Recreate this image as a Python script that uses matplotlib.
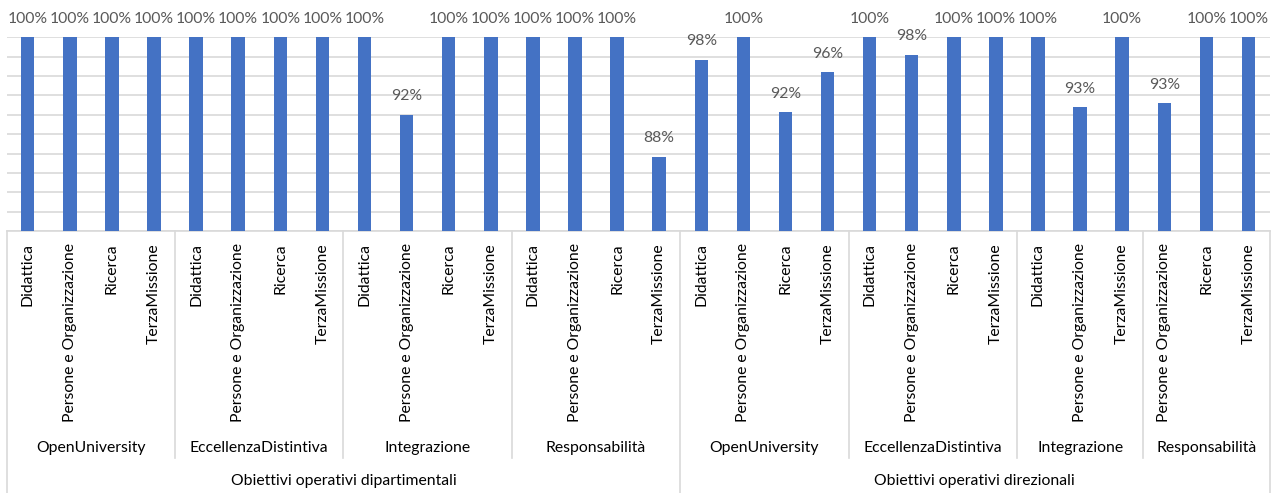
import matplotlib
matplotlib.use("Agg")
import matplotlib.pyplot as plt
from matplotlib.lines import Line2D

plt.rcParams["font.family"] = ["Lato", "DejaVu Sans"]

# Hierarchical categories: level 1 -> level 2 -> items
top_groups = ["Obiettivi operativi dipartimentali", "Obiettivi operativi direzionali"]
sub_groups = [
    ["OpenUniversity", "EccellenzaDistintiva", "Integrazione", "Responsabilità"],
    ["OpenUniversity", "EccellenzaDistintiva", "Integrazione", "Responsabilità"],
]
items = [
    [
        ["Didattica", "Persone e Organizzazione", "Ricerca", "TerzaMissione"],
        ["Didattica", "Persone e Organizzazione", "Ricerca", "TerzaMissione"],
        ["Didattica", "Persone e Organizzazione", "Ricerca", "TerzaMissione"],
        ["Didattica", "Persone e Organizzazione", "Ricerca", "TerzaMissione"],
    ],
    [
        ["Didattica", "Persone e Organizzazione", "Ricerca", "TerzaMissione"],
        ["Didattica", "Persone e Organizzazione", "Ricerca", "TerzaMissione"],
        ["Didattica", "Persone e Organizzazione", "TerzaMissione"],
        ["Persone e Organizzazione", "Ricerca", "TerzaMissione"],
    ],
]
values = [
    [
        [1.00, 1.00, 1.00, 1.00],
        [1.00, 1.00, 1.00, 1.00],
        [1.00, 0.920, 1.00, 1.00],
        [1.00, 1.00, 1.00, 0.877],
    ],
    [
        [0.977, 1.00, 0.923, 0.964],
        [1.00, 0.982, 1.00, 1.00],
        [1.00, 0.928, 1.00],
        [0.932, 1.00, 1.00],
    ],
]

BAR = "#4472C4"
TXT = "#595959"
GRID = "#D9D9D9"
FS = 11.3
W, H = 1274, 493

fig = plt.figure(figsize=(W / 100, H / 100), dpi=100)
ax_l, ax_r, ax_t, ax_b = 6.7, 1269.5, 37.3, 231.3
ax = fig.add_axes([ax_l / W, 1 - ax_b / H, (ax_r - ax_l) / W, (ax_b - ax_t) / H])

# flatten into bar positions
labels, vals = [], []
sub_spans, top_spans = [], []
pos = 0
for ti, tg in enumerate(top_groups):
    t_start = pos
    for si, sg in enumerate(sub_groups[ti]):
        s_start = pos
        for it, v in zip(items[ti][si], values[ti][si]):
            labels.append(it)
            vals.append(v)
            pos += 1
        sub_spans.append((sg, s_start, pos))
    top_spans.append((tg, t_start, pos))
n = len(vals)
x = list(range(n))

ax.bar(x, vals, width=0.32, color=BAR, zorder=3)
ax.set_xlim(-0.5, n - 0.5)
ax.set_ylim(0.80, 1.00)
ax.set_yticks([0.80 + 0.02 * i for i in range(11)])
ax.yaxis.grid(True, color=GRID, lw=1.2, zorder=0)
ax.tick_params(left=False, bottom=False, labelleft=False, labelbottom=False)
for s in ["left", "right", "top"]:
    ax.spines[s].set_visible(False)
ax.spines["bottom"].set_color(GRID)
ax.spines["bottom"].set_linewidth(1.2)

# data labels
for xi, v in zip(x, vals):
    ax.annotate(f"{v:.0%}", (xi, v), xytext=(0, 13.3), textcoords="offset points",
                ha="center", va="center", fontsize=FS, color=TXT, zorder=4)

trans = ax.get_xaxis_transform()
hpx = ax_b - ax_t


def yax(py):
    return (ax_b - py) / hpx


# category labels (rotated)
for xi, lab in zip(x, labels):
    ax.text(xi, yax(243), lab, rotation=90, ha="center", va="top",
            fontsize=FS, color="black", transform=trans, clip_on=False)

# second-level labels and separators
top_starts = [ts[1] for ts in top_spans]
for sg, a, b in sub_spans:
    ax.text((a + b - 1) / 2, yax(448), sg, ha="center", va="center",
            fontsize=FS, color="black", transform=trans, clip_on=False)
    if a not in top_starts:
        ax.add_line(Line2D([a - 0.5, a - 0.5], [yax(231.3), yax(458)], color=GRID,
                           lw=1.2, transform=trans, clip_on=False))

# top-level labels and separators
for tg, a, b in top_spans:
    ax.text((a + b - 1) / 2, yax(481.5), tg, ha="center", va="center",
            fontsize=FS, color="black", transform=trans, clip_on=False)
    ax.add_line(Line2D([a - 0.5, a - 0.5], [yax(231.3), yax(493)], color=GRID,
                       lw=1.2, transform=trans, clip_on=False))
ax.add_line(Line2D([n - 0.5, n - 0.5], [yax(231.3), yax(493)], color=GRID,
                   lw=1.2, transform=trans, clip_on=False))

fig.savefig("out.png", dpi=100)
